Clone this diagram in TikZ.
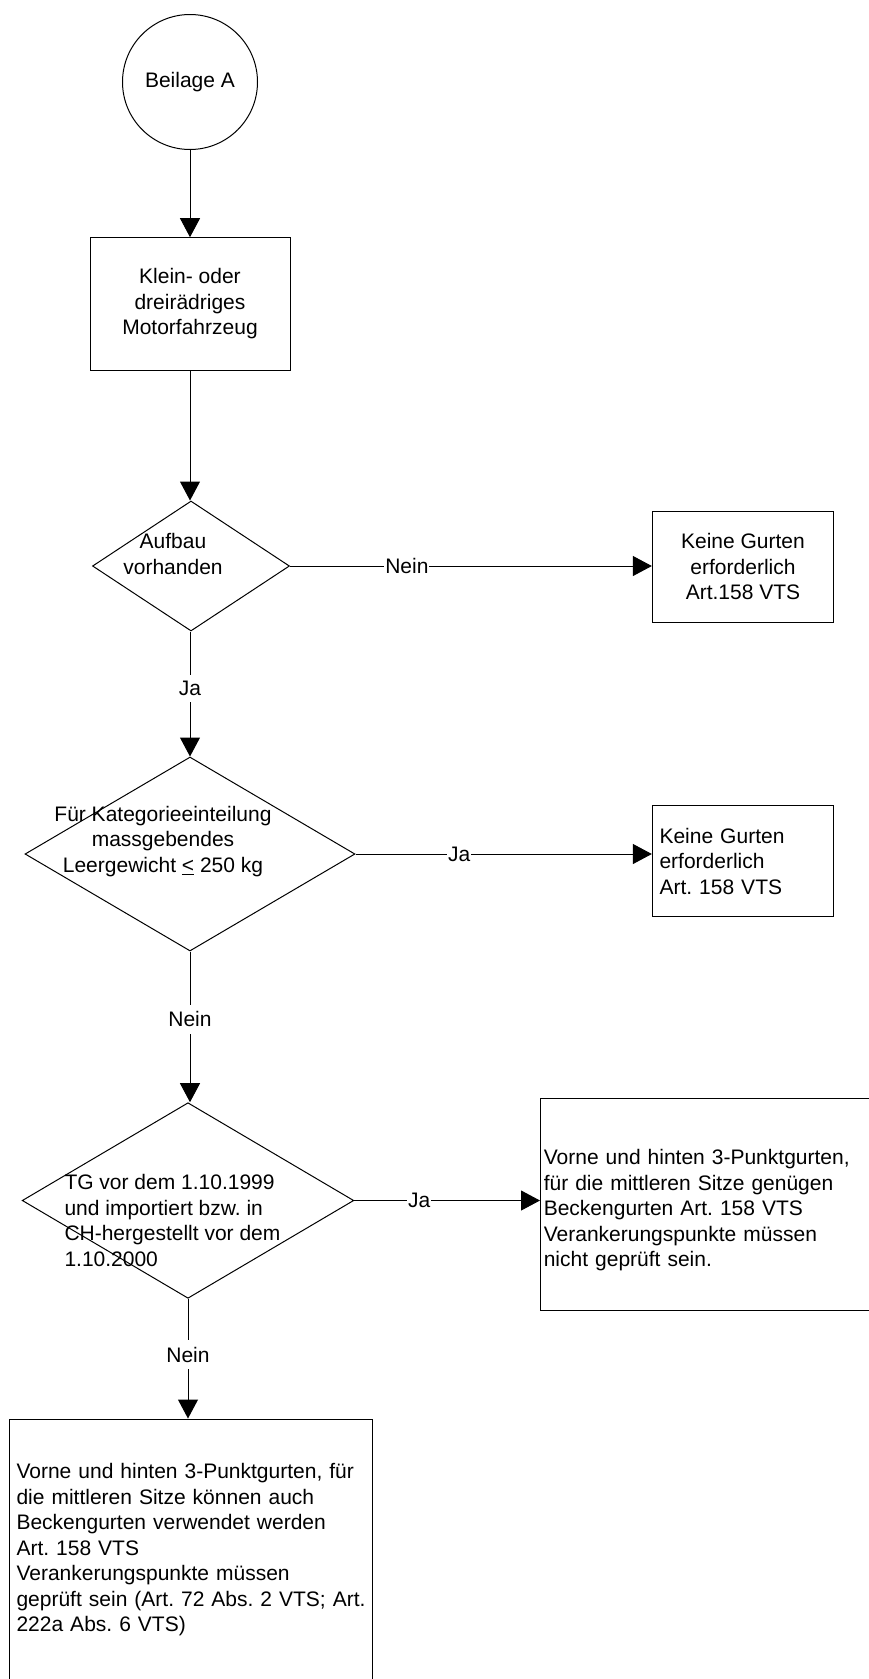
\documentclass[tikz,border=0pt]{standalone}
\usepackage{fontspec}
\setmainfont{Liberation Sans}
\usetikzlibrary{shapes.geometric,arrows.meta}
\begin{document}
\frenchspacing
\begin{tikzpicture}[x=1pt,y=-1pt,
  every node/.style={font=\fontsize{21pt}{25.5pt}\selectfont\frenchspacing, text=black},
  ln/.style={line width=1pt, draw=black},
  arr/.style={ln, -{Triangle[length=19pt,width=20pt]}},
  boxn/.style={draw=black, line width=1pt, rectangle, inner sep=0pt},
  dia/.style={draw=black, line width=1pt, diamond, inner sep=0pt},
  lbl/.style={fill=white, inner xsep=1pt, inner ysep=6.5pt},
  plain/.style={inner sep=0pt}]
\useasboundingbox (0,0) rectangle (869,1679);
\clip (0,0) rectangle (869,1679);
\fill[white] (0,0) rectangle (869,1679);

% nodes
\node[draw=black, line width=1pt, circle, minimum size=135pt, inner sep=0pt] (c) at (190,82) {Beilage A};
\node[boxn, minimum width=200pt, minimum height=132.6pt, align=center] (b1) at (190,304) {Klein- oder\\dreirädriges\\Motorfahrzeug};

\node[dia, minimum width=197pt, minimum height=130pt] (d1) at (191,566) {};
\node[plain, align=center, anchor=north] (t1) at (173,533.5) {Aufbau\\vorhanden};
\node[boxn, minimum width=181.3pt, minimum height=111.3pt, align=center] (b2) at (743,566.7) {Keine Gurten\\erforderlich\\Art.158 VTS};

\node[dia, minimum width=330pt, minimum height=194pt] (d2) at (190,854) {};
\node[plain, align=center, anchor=north] (t2) at (163,806) {Für Kategorieeinteilung\\massgebendes\\Leergewicht \underline{<} 250 kg};
\node[boxn, minimum width=181.3pt, minimum height=110.9pt, text width=166.9pt, align=left] (b3) at (743,861.25) {Keine Gurten\\erforderlich\\Art. 158 VTS};

\node[dia, minimum width=331.6pt, minimum height=195.6pt] (d3) at (188,1200.5) {};
\node[plain, align=left, anchor=north west] (t3) at (64.3,1174.3) {TG vor dem 1.10.1999\\und importiert bzw. in\\CH-hergestellt vor dem\\1.10.2000};
\node[boxn, minimum width=339.5pt, minimum height=212.2pt, text width=332.9pt, align=left] (b4) at (710.25,1204.6) {\rule{0pt}{27pt}Vorne und hinten 3-Punktgurten,\\für die mittleren Sitze genügen\\Beckengurten Art. 158 VTS\\Verankerungspunkte müssen\\nicht geprüft sein.};

\node[boxn, minimum width=363.3pt, minimum height=262pt, text width=349pt, align=left] (b5) at (191.05,1550) {Vorne und hinten 3-Punktgurten, für\\die mittleren Sitze können auch\\Beckengurten verwendet werden\\Art. 158 VTS\\Verankerungspunkte müssen\\geprüft sein (Art. 72 Abs. 2 VTS; Art.\\222a Abs. 6 VTS)};

% connectors
\draw[arr] (c.south) -- (b1.north);
\draw[arr] (b1.south) -- (b1.south |- d1.north);
\draw[arr] (d1.east) -- node[lbl, pos=.323] (l1) {Nein} (d1.east -| b2.west);
\draw[arr] (d2.north |- d1.south) -- node[lbl, pos=.455] (l2) {Ja} (d2.north);
\draw[arr] (d2.east) -- node[lbl, pos=.35] (l3) {Ja} (d2.east -| b3.west);
\draw[arr] (d2.south) -- node[lbl, pos=.45] (l4) {Nein} (d2.south |- d3.north);
\draw[arr] (d3.east) -- node[lbl, pos=.35] (l5) {Ja} (d3.east -| b4.west);
\draw[arr] (d3.south) -- node[lbl, pos=.466] (l6) {Nein} (d3.south |- b5.north);
\end{tikzpicture}
\end{document}
